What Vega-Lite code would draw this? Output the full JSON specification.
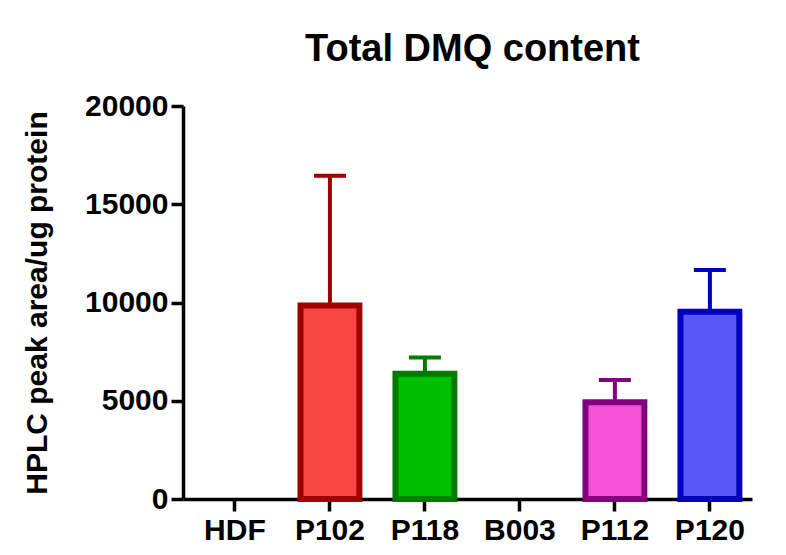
{
  "$schema": "https://vega.github.io/schema/vega-lite/v6.json",
  "autosize": {"type": "none"},
  "padding": {"left": 183, "top": 106, "right": 34, "bottom": 56},
  "width": 569,
  "height": 393,
  "background": "white",
  "config": {
    "view": {"stroke": null},
    "font": "Liberation Sans",
    "axis": {
      "domainColor": "black",
      "domainWidth": 3.5,
      "tickColor": "black",
      "tickWidth": 3.5,
      "tickSize": 12,
      "grid": false,
      "labelFont": "Liberation Sans",
      "labelFontWeight": "bold",
      "labelFontSize": 30,
      "labelColor": "black",
      "titleFont": "Liberation Sans",
      "titleFontWeight": "bold",
      "titleFontSize": 30,
      "titleColor": "black"
    }
  },
  "title": {
    "text": "Total DMQ content",
    "font": "Liberation Sans",
    "fontWeight": "bold",
    "fontSize": 38,
    "color": "black",
    "anchor": "middle",
    "frame": "group",
    "offset": 22,
    "dx": 5
  },
  "data": {
    "values": [
      {"sample": "HDF", "value": 0, "upper": null},
      {"sample": "P102", "value": 9850, "upper": 16450},
      {"sample": "P118", "value": 6380, "upper": 7200},
      {"sample": "B003", "value": 0, "upper": null},
      {"sample": "P112", "value": 4920, "upper": 6060},
      {"sample": "P120", "value": 9530, "upper": 11650}
    ]
  },
  "transform": [{"filter": "datum.value > 0"}],
  "encoding": {
    "x": {
      "field": "sample",
      "type": "nominal",
      "sort": null,
      "scale": {
        "domain": ["HDF", "P102", "P118", "B003", "P112", "P120"],
        "paddingInner": 0.38,
        "paddingOuter": 0.185,
        "align": 0.64
      },
      "axis": {"title": null, "labelAngle": 0, "labelPadding": 4}
    }
  },
  "layer": [
    {
      "mark": {"type": "rule", "strokeWidth": 4, "opacity": 1},
      "encoding": {
        "y": {"field": "value", "type": "quantitative"},
        "y2": {"field": "upper"},
        "color": {
          "field": "sample",
          "type": "nominal",
          "scale": {
            "domain": ["HDF", "P102", "P118", "B003", "P112", "P120"],
            "range": ["#000000", "#A00000", "#007A00", "#000000", "#800080", "#0000C0"]
          },
          "legend": null
        }
      }
    },
    {
      "mark": {"type": "tick", "size": 32, "thickness": 4, "orient": "horizontal", "opacity": 1},
      "encoding": {
        "y": {"field": "upper", "type": "quantitative"},
        "color": {
          "field": "sample",
          "type": "nominal",
          "scale": {
            "domain": ["HDF", "P102", "P118", "B003", "P112", "P120"],
            "range": ["#000000", "#A00000", "#007A00", "#000000", "#800080", "#0000C0"]
          },
          "legend": null
        }
      }
    },
    {
      "mark": {"type": "bar", "strokeWidth": 6, "fillOpacity": 1, "opacity": 1},
      "encoding": {
        "y": {
          "field": "value",
          "type": "quantitative",
          "scale": {"domain": [0, 20000], "nice": false},
          "axis": {
            "title": "HPLC peak area/ug protein",
            "values": [0, 5000, 10000, 15000, 20000],
            "format": "d",
            "labelPadding": 3,
            "titlePadding": 32
          }
        },
        "fill": {
          "field": "sample",
          "type": "nominal",
          "scale": {
            "domain": ["HDF", "P102", "P118", "B003", "P112", "P120"],
            "range": ["#FFFFFF", "#FA4545", "#00BF00", "#FFFFFF", "#F54FD5", "#5757F8"]
          },
          "legend": null
        },
        "stroke": {
          "field": "sample",
          "type": "nominal",
          "scale": {
            "domain": ["HDF", "P102", "P118", "B003", "P112", "P120"],
            "range": ["#000000", "#A00000", "#007A00", "#000000", "#800080", "#0000C0"]
          },
          "legend": null
        }
      }
    }
  ],
  "resolve": {"scale": {"y": "shared"}}
}
